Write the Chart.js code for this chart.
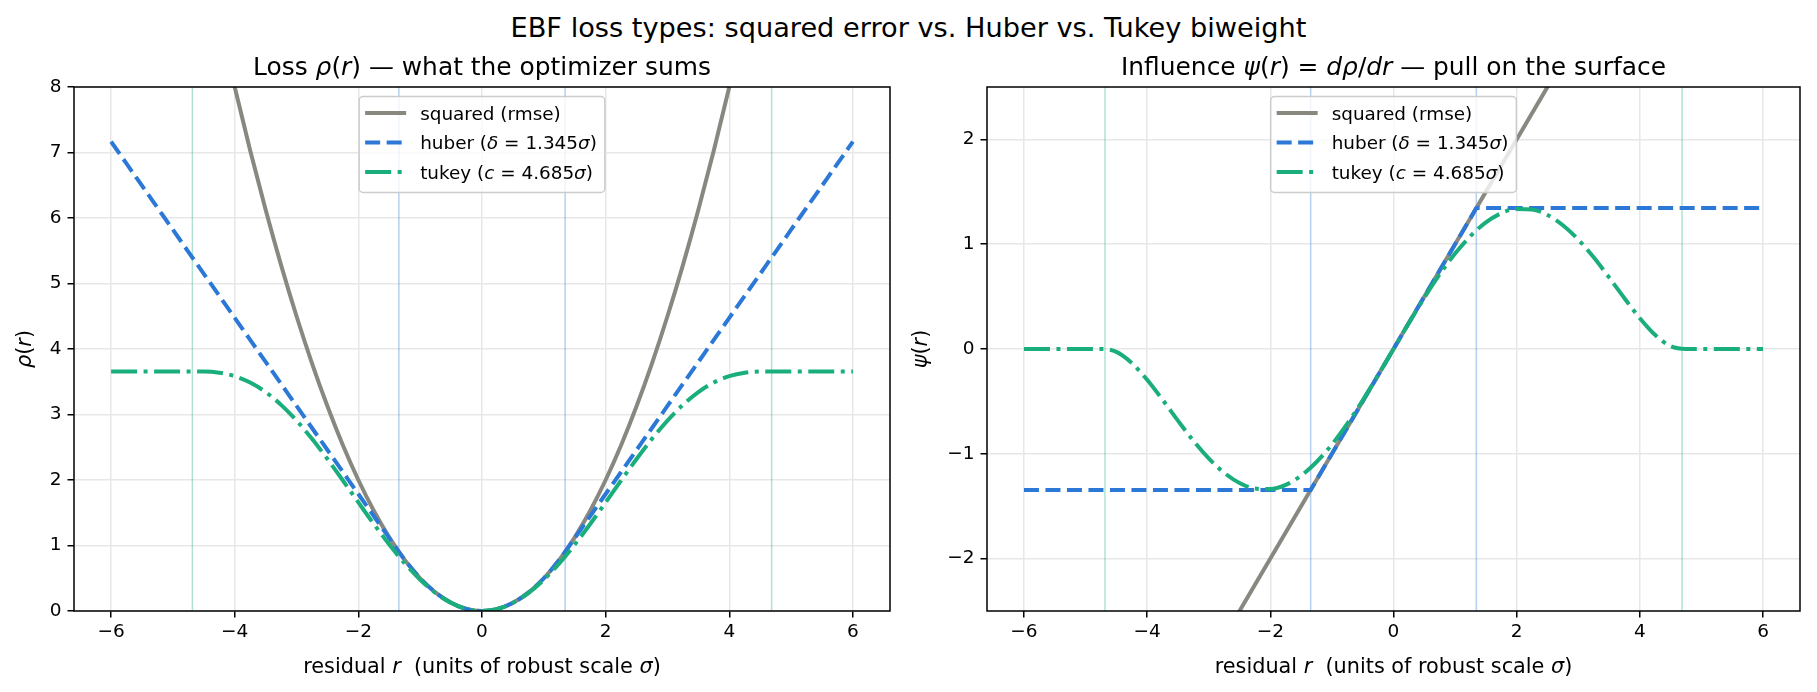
<!DOCTYPE html>
<html>
<head>
<meta charset="utf-8">
<title>EBF loss types</title>
<script src="https://cdn.jsdelivr.net/npm/chart.js@4.4.1/dist/chart.umd.min.js"></script>
<style>
  html, body { margin: 0; padding: 0; background: #fff; }
  body { width: 1817px; height: 692px; position: relative; overflow: hidden; font-family: "DejaVu Sans", sans-serif; }
  .suptitle { position: absolute; left: 0; top: 13.5px; width: 1817px; text-align: center; font-size: 27.2px; line-height: 27.2px; color: #000; white-space: pre; }
  canvas { position: absolute; top: 0; }
  #loss { left: 0; }
  #influence { left: 908px; }
</style>
</head>
<body>
<div class="suptitle">EBF loss types: squared error vs. Huber vs. Tukey biweight</div>
<canvas id="loss" width="908" height="692" style="width:908px;height:692px"></canvas>
<canvas id="influence" width="909" height="692" style="width:909px;height:692px"></canvas>
<script>
// residual grid (units of sigma) and the curves
const residuals = [-6, -5.75, -5.5, -5.25, -5, -4.75, -4.5, -4.25, -4, -3.75, -3.5, -3.25, -3, -2.75, -2.5, -2.25, -2, -1.75, -1.5, -1.25, -1, -0.75, -0.5, -0.25,
  0, 0.25, 0.5, 0.75, 1, 1.25, 1.5, 1.75, 2, 2.25, 2.5, 2.75, 3, 3.25, 3.5, 3.75, 4, 4.25, 4.5, 4.75, 5, 5.25, 5.5, 5.75, 6]

const squaredLoss = [18, 16.53, 15.125, 13.78, 12.5, 11.28, 10.125, 9.031, 8, 7.031, 6.125, 5.281, 4.5, 3.781, 3.125, 2.531, 2, 1.531, 1.125, 0.781, 0.5, 0.281, 0.125, 0.031,
  0, 0.031, 0.125, 0.281, 0.5, 0.781, 1.125, 1.531, 2, 2.531, 3.125, 3.781, 4.5, 5.281, 6.125, 7.031, 8, 9.031, 10.125, 11.28, 12.5, 13.78, 15.125, 16.53, 18]

const huberLoss = [7.166, 6.829, 6.493, 6.157, 5.821, 5.484, 5.148, 4.812, 4.476, 4.139, 3.803, 3.467, 3.131, 2.794, 2.458, 2.122, 1.786, 1.449, 1.113, 0.781, 0.5, 0.281, 0.125, 0.031,
  0, 0.031, 0.125, 0.281, 0.5, 0.781, 1.113, 1.449, 1.786, 2.122, 2.458, 2.794, 3.131, 3.467, 3.803, 4.139, 4.476, 4.812, 5.148, 5.484, 5.821, 6.157, 6.493, 6.829, 7.166]

const tukeyLoss = [3.658, 3.658, 3.658, 3.658, 3.658, 3.658, 3.657, 3.638, 3.585, 3.489, 3.343, 3.147, 2.907, 2.628, 2.32, 1.992, 1.658, 1.328, 1.014, 0.727, 0.478, 0.274, 0.124, 0.031,
  0, 0.031, 0.124, 0.274, 0.478, 0.727, 1.014, 1.328, 1.658, 1.992, 2.32, 2.628, 2.907, 3.147, 3.343, 3.489, 3.585, 3.638, 3.657, 3.658, 3.658, 3.658, 3.658, 3.658, 3.658]

const tukeyInfluence = [0, 0, 0, 0, 0, 0, -0.027, -0.133, -0.294, -0.484, -0.683, -0.875, -1.044, -1.181, -1.279, -1.332, -1.337, -1.296, -1.208, -1.078, -0.911, -0.712, -0.489, -0.249,
  0, 0.249, 0.489, 0.712, 0.911, 1.078, 1.208, 1.296, 1.337, 1.332, 1.279, 1.181, 1.044, 0.875, 0.683, 0.484, 0.294, 0.133, 0.027, 0, 0, 0, 0, 0, 0]

const squaredEnds = [-6, 6]
const squaredInfluence = [-6, 6]
const huberKnots = [-6, -1.345, 1.345, 6]
const huberInfluence = [-1.345, -1.345, 1.345, 1.345]

const huberCuts = [-1.345, 1.345]
const tukeyCuts = [-4.685, 4.685]

const xTicks = [-6, -4, -2, 0, 2, 4, 6]
const lossTicks = [0, 1, 2, 3, 4, 5, 6, 7, 8]
const influenceTicks = [-2, -1, 0, 1, 2]

// [text, italic]
const legendLabels = [
  [['squared (rmse)', false]],
  [['huber (', false], ['δ', true], [' = 1.345', false], ['σ', true], [')', false]],
  [['tukey (', false], ['c', true], [' = 4.685', false], ['σ', true], [')', false]],
]
const xLabel = [['residual ', false], ['r', true], ['  (units of robust scale ', false], ['σ', true], [')', false]]

const FONT = '"DejaVu Sans", sans-serif'
const GRAY = '#888881'
const BLUE = '#2b78d7'
const GREEN = '#1aae7c'

const pts = (xs, ys) => xs.map((x, i) => ({ x, y: ys[i] }))

const richWidth = function (ctx, parts, size) {
  let w = 0
  parts.forEach(([t, it]) => {
    ctx.font = (it ? 'italic ' : '') + size + 'px ' + FONT
    w += ctx.measureText(t).width
  })
  return w
}

const drawRich = function (ctx, parts, x, y, size, align) {
  const w = richWidth(ctx, parts, size)
  let cx = align == 'center' ? x - w / 2 : x
  parts.forEach(([t, it]) => {
    ctx.font = (it ? 'italic ' : '') + size + 'px ' + FONT
    ctx.fillText(t, cx, y)
    cx += ctx.measureText(t).width
  })
}

const panelPlugin = function (spec) {
  return {
    id: 'panel',
    beforeDatasetsDraw(chart) {
      const { ctx, chartArea, scales } = chart
      ctx.save()
      ctx.lineWidth = 1.5
      const cut = (v, color) => {
        const px = scales.x.getPixelForValue(v)
        ctx.strokeStyle = color
        ctx.beginPath()
        ctx.moveTo(px, chartArea.top)
        ctx.lineTo(px, chartArea.bottom)
        ctx.stroke()
      }
      huberCuts.forEach((v) => cut(v, 'rgba(43,120,215,0.35)'))
      tukeyCuts.forEach((v) => cut(v, 'rgba(26,174,124,0.35)'))
      ctx.restore()
    },
    afterDatasetsDraw(chart) {
      const { ctx, chartArea } = chart
      ctx.save()
      const size = 18.4
      const textW = Math.max(...legendLabels.map((p) => richWidth(ctx, p, size)))
      const w = 6 + 41 + 14 + textW + 8
      const h = 96
      const left = (chartArea.left + chartArea.right) / 2 - w / 2
      const top = chartArea.top + 9.5
      ctx.beginPath()
      ctx.roundRect(left, top, w, h, 4)
      ctx.fillStyle = 'rgba(255,255,255,0.8)'
      ctx.fill()
      ctx.lineWidth = 1.5
      ctx.strokeStyle = '#cccccc'
      ctx.stroke()
      chart.data.datasets.forEach((ds, i) => {
        const cy = top + 16.4 + i * 29.5
        ctx.strokeStyle = ds.borderColor
        ctx.lineWidth = ds.borderWidth
        ctx.setLineDash(ds.borderDash || [])
        ctx.beginPath()
        ctx.moveTo(left + 6, cy)
        ctx.lineTo(left + 47, cy)
        ctx.stroke()
        ctx.setLineDash([])
        ctx.fillStyle = '#000'
        ctx.textBaseline = 'alphabetic'
        drawRich(ctx, legendLabels[i], left + 61, cy + 7, size, 'left')
      })
      ctx.restore()
    },
    afterDraw(chart) {
      const { ctx, chartArea } = chart
      ctx.save()
      ctx.strokeStyle = '#000'
      ctx.lineWidth = 1.5
      ctx.strokeRect(chartArea.left, chartArea.top, chartArea.right - chartArea.left, chartArea.bottom - chartArea.top)
      ctx.fillStyle = '#000'
      ctx.textBaseline = 'alphabetic'
      const cx = (chartArea.left + chartArea.right) / 2
      drawRich(ctx, spec.title, cx, 75, 24.9, 'center')
      drawRich(ctx, xLabel, cx, 673, 20.8, 'center')
      ctx.translate(spec.yLabelX, (chartArea.top + chartArea.bottom) / 2)
      ctx.rotate(-Math.PI / 2)
      ctx.textBaseline = 'middle'
      drawRich(ctx, spec.yLabel, 0, 0, 20.8, 'center')
      ctx.restore()
    },
  }
}

const fmt = (v) => String(v).replace('-', '\u2212')

const axis = function (ticks, min, max, size, horizontal) {
  return {
    type: 'linear',
    min,
    max,
    afterBuildTicks(scale) {
      scale.ticks = ticks.map((value) => ({ value }))
    },
    afterFit(scale) {
      if (horizontal) scale.height = size
      else scale.width = size
      scale.paddingTop = 0
      scale.paddingBottom = 0
      scale.paddingLeft = 0
      scale.paddingRight = 0
    },
    grid: { color: '#e7e7e7', lineWidth: 1.5, tickColor: '#000', tickWidth: 1.5, tickLength: 6.5 },
    border: { display: false },
    ticks: { font: { family: FONT, size: 18.5 }, color: '#000', padding: horizontal ? 3.5 : 6, maxRotation: 0, autoSkip: false, callback: fmt },
  }
}

const makeChart = function (canvas, spec) {
  return new Chart(canvas, {
    type: 'line',
    data: { datasets: spec.datasets },
    options: {
      responsive: false,
      animation: false,
      layout: { padding: { top: 87, left: 0, right: spec.padRight, bottom: 0 } },
      elements: { point: { radius: 0 }, line: { fill: false } },
      plugins: { legend: { display: false }, title: { display: false }, tooltip: { enabled: false } },
      scales: {
        x: axis(xTicks, -6.6, 6.6, 81, true),
        y: axis(spec.yTicks, spec.yMin, spec.yMax, spec.axisWidth, false),
      },
    },
    plugins: [panelPlugin(spec)],
  })
}

const series = (label, data, color, dash, order, mode) => ({
  label,
  data,
  borderColor: color,
  borderWidth: 4,
  borderDash: dash,
  order,
  clip: 0,
  tension: 0,
  cubicInterpolationMode: mode,
})

const init = function () {
  makeChart(document.querySelector('#loss'), {
    title: [['Loss ', false], ['ρ', true], ['(', false], ['r', true], [')', false], [' — what the optimizer sums', false]],
    yLabel: [['ρ', true], ['(', false], ['r', true], [')', false]],
    yLabelX: 26,
    yTicks: lossTicks,
    yMin: 0,
    yMax: 8,
    axisWidth: 74,
    padRight: 18,
    datasets: [
      series('squared (rmse)', pts(residuals, squaredLoss), GRAY, [], 3, 'monotone'),
      series('huber (δ = 1.345σ)', pts(residuals, huberLoss), BLUE, [15, 6.5], 2, 'monotone'),
      series('tukey (c = 4.685σ)', pts(residuals, tukeyLoss), GREEN, [26, 6.5, 4, 6.5], 1, 'monotone'),
    ],
  })
  makeChart(document.querySelector('#influence'), {
    title: [['Influence ', false], ['ψ', true], ['(', false], ['r', true], [')', false], [' = ', false], ['dρ', true], ['/', false], ['dr', true], [' — pull on the surface', false]],
    yLabel: [['ψ', true], ['(', false], ['r', true], [')', false]],
    yLabelX: 14,
    yTicks: influenceTicks,
    yMin: -2.5,
    yMax: 2.5,
    axisWidth: 79,
    padRight: 17,
    datasets: [
      series('squared (rmse)', pts(squaredEnds, squaredInfluence), GRAY, [], 3, 'default'),
      series('huber (δ = 1.345σ)', pts(huberKnots, huberInfluence), BLUE, [15, 6.5], 2, 'default'),
      series('tukey (c = 4.685σ)', pts(residuals, tukeyInfluence), GREEN, [26, 6.5, 4, 6.5], 1, 'monotone'),
    ],
  })
}

document.addEventListener('DOMContentLoaded', function () {
  init()
})
</script>
</body>
</html>
